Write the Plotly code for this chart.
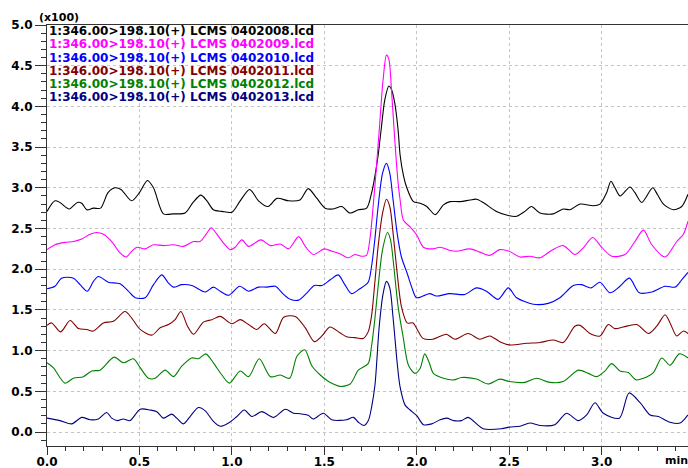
import plotly.graph_objects as go

# ---------------- data (minutes, intensity x100) ----------------
t_black = [0, 0.043, 0.07, 0.12, 0.164, 0.188, 0.215, 0.251, 0.29, 0.33, 0.368, 0.40, 0.458, 0.5, 0.543, 0.576, 0.63, 0.684, 0.747, 0.79, 0.832, 0.865, 0.90, 0.946, 1.0, 1.045, 1.096, 1.144, 1.195, 1.244, 1.307, 1.368, 1.413, 1.458, 1.504, 1.549, 1.594, 1.639, 1.684, 1.729, 1.756, 1.774, 1.791, 1.809, 1.827, 1.849, 1.863, 1.881, 1.899, 1.91, 1.928, 1.946, 1.982, 2.018, 2.054, 2.10, 2.144, 2.18, 2.235, 2.288, 2.323, 2.359, 2.431, 2.495, 2.54, 2.585, 2.62, 2.666, 2.738, 2.792, 2.828, 2.883, 2.955, 2.991, 3.027, 3.05, 3.072, 3.10, 3.153, 3.18, 3.217, 3.276, 3.301, 3.334, 3.388, 3.433, 3.467]
y_black = [2.71, 2.84, 2.82, 2.74, 2.82, 2.81, 2.73, 2.75, 2.75, 2.94, 3.0, 2.98, 2.84, 2.94, 3.09, 3.0, 2.68, 2.68, 2.69, 2.82, 2.91, 2.84, 2.73, 2.71, 2.70, 2.84, 2.98, 2.84, 2.77, 2.87, 2.84, 2.85, 2.99, 2.875, 2.75, 2.74, 2.77, 2.69, 2.73, 2.75, 2.94, 3.15, 3.40, 3.75, 4.08, 4.25, 4.21, 4.04, 3.71, 3.40, 3.15, 3.00, 2.83, 2.81, 2.77, 2.67, 2.79, 2.83, 2.83, 2.85, 2.86, 2.82, 2.71, 2.66, 2.65, 2.71, 2.77, 2.69, 2.68, 2.74, 2.73, 2.80, 2.78, 2.80, 2.94, 3.08, 3.0, 2.90, 3.01, 2.94, 2.82, 3.0, 2.92, 2.80, 2.73, 2.77, 2.92]

t_magenta = [0, 0.043, 0.097, 0.143, 0.188, 0.233, 0.269, 0.305, 0.35, 0.395, 0.428, 0.458, 0.486, 0.531, 0.576, 0.63, 0.684, 0.738, 0.792, 0.828, 0.861, 0.888, 0.919, 0.955, 0.991, 1.018, 1.054, 1.09, 1.157, 1.208, 1.262, 1.307, 1.361, 1.40, 1.442, 1.50, 1.541, 1.584, 1.629, 1.665, 1.701, 1.728, 1.746, 1.764, 1.782, 1.80, 1.818, 1.836, 1.849, 1.863, 1.881, 1.899, 1.91, 1.928, 1.964, 2.0, 2.036, 2.09, 2.126, 2.18, 2.215, 2.287, 2.341, 2.395, 2.449, 2.5, 2.558, 2.612, 2.666, 2.729, 2.792, 2.855, 2.90, 2.951, 3.0, 3.054, 3.126, 3.18, 3.226, 3.271, 3.343, 3.406, 3.442, 3.467]
y_magenta = [2.24, 2.30, 2.33, 2.34, 2.37, 2.43, 2.45, 2.43, 2.34, 2.20, 2.15, 2.22, 2.27, 2.25, 2.30, 2.29, 2.30, 2.28, 2.34, 2.34, 2.43, 2.51, 2.43, 2.32, 2.24, 2.27, 2.36, 2.28, 2.36, 2.29, 2.31, 2.25, 2.40, 2.27, 2.18, 2.25, 2.22, 2.19, 2.14, 2.18, 2.16, 2.17, 2.36, 2.77, 3.26, 3.80, 4.33, 4.63, 4.58, 4.21, 3.59, 3.06, 2.85, 2.60, 2.52, 2.42, 2.27, 2.25, 2.27, 2.23, 2.22, 2.25, 2.21, 2.17, 2.24, 2.22, 2.15, 2.16, 2.14, 2.23, 2.29, 2.18, 2.26, 2.39, 2.27, 2.16, 2.18, 2.34, 2.48, 2.30, 2.15, 2.34, 2.43, 2.59]

t_blue = [0, 0.043, 0.079, 0.143, 0.179, 0.218, 0.251, 0.278, 0.332, 0.395, 0.44, 0.477, 0.531, 0.576, 0.621, 0.657, 0.684, 0.729, 0.783, 0.856, 0.90, 0.937, 0.982, 1.042, 1.09, 1.144, 1.19, 1.235, 1.28, 1.316, 1.361, 1.406, 1.446, 1.487, 1.532, 1.575, 1.611, 1.647, 1.692, 1.737, 1.755, 1.773, 1.791, 1.815, 1.836, 1.854, 1.872, 1.894, 1.917, 1.948, 1.971, 1.998, 2.034, 2.07, 2.106, 2.178, 2.26, 2.323, 2.377, 2.44, 2.495, 2.54, 2.63, 2.711, 2.774, 2.847, 2.892, 2.942, 2.991, 3.045, 3.099, 3.15, 3.204, 3.271, 3.343, 3.398, 3.433, 3.467]
y_blue = [1.76, 1.79, 1.89, 1.89, 1.81, 1.73, 1.85, 1.91, 1.84, 1.82, 1.73, 1.65, 1.65, 1.81, 1.93, 1.83, 1.78, 1.81, 1.80, 1.72, 1.78, 1.73, 1.68, 1.79, 1.73, 1.78, 1.78, 1.79, 1.69, 1.63, 1.62, 1.71, 1.80, 1.80, 1.87, 1.93, 1.81, 1.70, 1.76, 1.84, 2.03, 2.36, 2.77, 3.18, 3.30, 3.18, 2.85, 2.44, 2.15, 1.95, 1.79, 1.65, 1.67, 1.70, 1.67, 1.70, 1.69, 1.77, 1.73, 1.63, 1.77, 1.65, 1.57, 1.58, 1.65, 1.80, 1.81, 1.77, 1.84, 1.71, 1.79, 1.89, 1.71, 1.72, 1.79, 1.78, 1.87, 1.96]

t_maroon = [0, 0.025, 0.074, 0.125, 0.17, 0.215, 0.251, 0.305, 0.359, 0.422, 0.458, 0.504, 0.567, 0.612, 0.657, 0.693, 0.724, 0.76, 0.792, 0.846, 0.892, 0.937, 1.0, 1.045, 1.09, 1.135, 1.175, 1.235, 1.28, 1.343, 1.397, 1.446, 1.487, 1.53, 1.584, 1.62, 1.665, 1.71, 1.737, 1.755, 1.773, 1.791, 1.815, 1.836, 1.854, 1.872, 1.894, 1.917, 1.948, 1.98, 2.007, 2.034, 2.088, 2.16, 2.206, 2.278, 2.341, 2.395, 2.449, 2.5, 2.594, 2.666, 2.738, 2.792, 2.855, 2.883, 2.937, 2.991, 3.036, 3.072, 3.117, 3.19, 3.253, 3.298, 3.343, 3.37, 3.406, 3.442, 3.467]
y_maroon = [1.31, 1.34, 1.23, 1.37, 1.27, 1.26, 1.24, 1.34, 1.36, 1.48, 1.40, 1.26, 1.19, 1.28, 1.32, 1.38, 1.48, 1.30, 1.20, 1.35, 1.38, 1.42, 1.33, 1.38, 1.32, 1.26, 1.33, 1.21, 1.41, 1.42, 1.28, 1.11, 1.18, 1.29, 1.22, 1.17, 1.16, 1.15, 1.23, 1.42, 1.83, 2.28, 2.69, 2.86, 2.77, 2.44, 1.95, 1.54, 1.34, 1.34, 1.24, 1.15, 1.14, 1.20, 1.14, 1.21, 1.14, 1.18, 1.11, 1.07, 1.09, 1.10, 1.13, 1.10, 1.30, 1.31, 1.21, 1.18, 1.32, 1.27, 1.29, 1.32, 1.21, 1.30, 1.44, 1.34, 1.18, 1.24, 1.21]

t_green = [0, 0.034, 0.097, 0.143, 0.197, 0.242, 0.287, 0.363, 0.413, 0.467, 0.504, 0.549, 0.585, 0.639, 0.684, 0.729, 0.783, 0.819, 0.859, 0.90, 0.946, 0.987, 1.045, 1.09, 1.148, 1.208, 1.262, 1.312, 1.352, 1.394, 1.433, 1.478, 1.523, 1.549, 1.585, 1.64, 1.684, 1.737, 1.755, 1.773, 1.791, 1.815, 1.842, 1.858, 1.876, 1.899, 1.926, 1.955, 1.99, 2.018, 2.043, 2.066, 2.09, 2.144, 2.2, 2.242, 2.323, 2.386, 2.449, 2.5, 2.585, 2.648, 2.72, 2.792, 2.874, 2.928, 2.973, 3.018, 3.054, 3.099, 3.144, 3.186, 3.226, 3.28, 3.325, 3.37, 3.42, 3.467]
y_green = [0.85, 0.79, 0.60, 0.66, 0.68, 0.75, 0.76, 0.92, 0.85, 0.90, 0.79, 0.66, 0.66, 0.76, 0.68, 0.81, 0.91, 0.90, 0.96, 0.85, 0.70, 0.60, 0.75, 0.68, 0.90, 0.68, 0.70, 0.66, 0.93, 1.01, 0.81, 0.70, 0.62, 0.59, 0.56, 0.59, 0.76, 0.84, 1.05, 1.38, 1.79, 2.24, 2.45, 2.36, 2.03, 1.54, 1.17, 0.82, 0.72, 0.78, 0.96, 0.86, 0.72, 0.66, 0.64, 0.67, 0.65, 0.59, 0.65, 0.62, 0.61, 0.66, 0.61, 0.62, 0.76, 0.72, 0.68, 0.75, 0.84, 0.75, 0.73, 0.64, 0.66, 0.73, 0.91, 0.82, 0.96, 0.91]

t_navy = [0, 0.07, 0.134, 0.188, 0.233, 0.278, 0.323, 0.35, 0.381, 0.413, 0.449, 0.504, 0.558, 0.594, 0.63, 0.675, 0.702, 0.738, 0.774, 0.819, 0.856, 0.90, 0.937, 0.982, 1.027, 1.067, 1.108, 1.162, 1.226, 1.289, 1.334, 1.368, 1.413, 1.44, 1.495, 1.54, 1.62, 1.657, 1.684, 1.715, 1.738, 1.756, 1.774, 1.797, 1.818, 1.836, 1.854, 1.872, 1.894, 1.91, 1.937, 1.964, 2.0, 2.036, 2.081, 2.126, 2.162, 2.2, 2.242, 2.278, 2.359, 2.458, 2.5, 2.558, 2.612, 2.666, 2.747, 2.81, 2.874, 2.919, 2.964, 3.009, 3.096, 3.148, 3.208, 3.262, 3.307, 3.37, 3.424, 3.467]
y_navy = [0.17, 0.14, 0.10, 0.18, 0.15, 0.16, 0.24, 0.17, 0.14, 0.16, 0.14, 0.28, 0.27, 0.25, 0.17, 0.22, 0.17, 0.10, 0.19, 0.30, 0.26, 0.13, 0.07, 0.11, 0.19, 0.27, 0.19, 0.25, 0.18, 0.28, 0.23, 0.225, 0.205, 0.16, 0.23, 0.15, 0.15, 0.18, 0.12, 0.08, 0.14, 0.31, 0.58, 1.30, 1.70, 1.85, 1.77, 1.40, 0.85, 0.55, 0.33, 0.27, 0.20, 0.09, 0.10, 0.15, 0.17, 0.14, 0.14, 0.18, 0.04, 0.04, 0.06, 0.07, 0.11, 0.08, 0.09, 0.23, 0.14, 0.21, 0.36, 0.23, 0.17, 0.48, 0.36, 0.21, 0.19, 0.12, 0.11, 0.21]

series_names = ["1:346.00>198.10(+) LCMS 0402008.lcd",
                "1:346.00>198.10(+) LCMS 0402009.lcd",
                "1:346.00>198.10(+) LCMS 0402010.lcd",
                "1:346.00>198.10(+) LCMS 0402011.lcd",
                "1:346.00>198.10(+) LCMS 0402012.lcd",
                "1:346.00>198.10(+) LCMS 0402013.lcd"]
series_colors = ["#000000", "#ff00ff", "#0000ff", "#800000", "#008000", "#000080"]

x_ticks = [0.0, 0.5, 1.0, 1.5, 2.0, 2.5, 3.0]
x_ticktext = ["0.0", "0.5", "1.0", "1.5", "2.0", "2.5", "3.0"]
y_ticks = [0.0, 0.5, 1.0, 1.5, 2.0, 2.5, 3.0, 3.5, 4.0, 4.5, 5.0]
y_ticktext = ["0.0", "0.5", "1.0", "1.5", "2.0", "2.5", "3.0", "3.5", "4.0", "4.5", "5.0"]

series_t = [t_black, t_magenta, t_blue, t_maroon, t_green, t_navy]
series_y = [y_black, y_magenta, y_blue, y_maroon, y_green, y_navy]

# ---------------- figure ----------------
FONT = "DejaVu Sans"
fig = go.Figure()
for t, y, c, n in zip(series_t, series_y, series_colors, series_names):
    fig.add_trace(go.Scatter(x=t, y=y, mode="lines", name=n,
                             line=dict(color=c, width=1.1, shape="spline", smoothing=0.8),
                             showlegend=False, hoverinfo="skip"))

W, H = 688, 468
ML, MR, MT, MB = 47, 0, 25, 22
PW, PH = W - ML - MR, H - MT - MB

annotations = []
row_y = [31.0, 44.3, 57.5, 70.8, 84.0, 97.3]
for n, c, py in zip(series_names, series_colors, row_y):
    annotations.append(dict(text=n, xref="paper", yref="paper", x=0.0, y=1 - (py - MT) / PH,
                            xanchor="left", yanchor="middle", showarrow=False,
                            font=dict(family=FONT, size=12, color=c, weight="bold"),
                            borderpad=0, xshift=1))
annotations.append(dict(text="(x100)", xref="paper", yref="paper", x=(38 - ML) / PW,
                        y=1 + (MT - 17.5) / PH, xanchor="left", yanchor="middle",
                        showarrow=False, borderpad=0,
                        font=dict(family=FONT, size=11, color="#000000", weight="bold")))
annotations.append(dict(text="min", xref="paper", yref="paper", x=(664 - ML) / PW,
                        y=-(461 - (MT + PH)) / PH, xanchor="left", yanchor="middle",
                        showarrow=False, borderpad=0,
                        font=dict(family=FONT, size=11, color="#000000", weight="bold")))

GRID = "#c4c4c4"
fig.update_layout(
    width=W, height=H,
    margin=dict(l=ML, r=MR, t=MT, b=MB, pad=0),
    paper_bgcolor="white", plot_bgcolor="white",
    font=dict(family=FONT, size=12, color="#000000"),
    annotations=annotations,
    xaxis=dict(range=[0, 3.467], tickvals=x_ticks, ticktext=x_ticktext, automargin=False,
               ticks="outside", ticklen=8, tickwidth=1, tickcolor="#333333",
               ticklabelstandoff=-3,
               showline=True, linecolor="#333333", linewidth=1, mirror=True,
               showgrid=True, gridcolor=GRID, griddash="3px,3px", gridwidth=1,
               zeroline=False,
               tickfont=dict(family=FONT, size=12, color="#000000", weight="bold"),
               minor=dict(dtick=0.1, tick0=0, ticks="outside", ticklen=4, tickcolor="#333333", showgrid=False)),
    yaxis=dict(range=[-0.172, 5.0], tickvals=y_ticks, ticktext=y_ticktext, automargin=False,
               ticks="outside", ticklen=11, tickwidth=1, tickcolor="#333333",
               showline=True, linecolor="#333333", linewidth=1,
               showgrid=True, gridcolor=GRID, griddash="3px,3px", gridwidth=1,
               zeroline=False,
               tickfont=dict(family=FONT, size=12, color="#000000", weight="bold"),
               minor=dict(dtick=0.1, tick0=0, ticks="outside", ticklen=5, tickcolor="#333333", showgrid=False)),
)

fig.write_html("out.html", config={"displayModeBar": False},
               post_script="document.body.style.margin='0';document.body.style.overflow='hidden';")
